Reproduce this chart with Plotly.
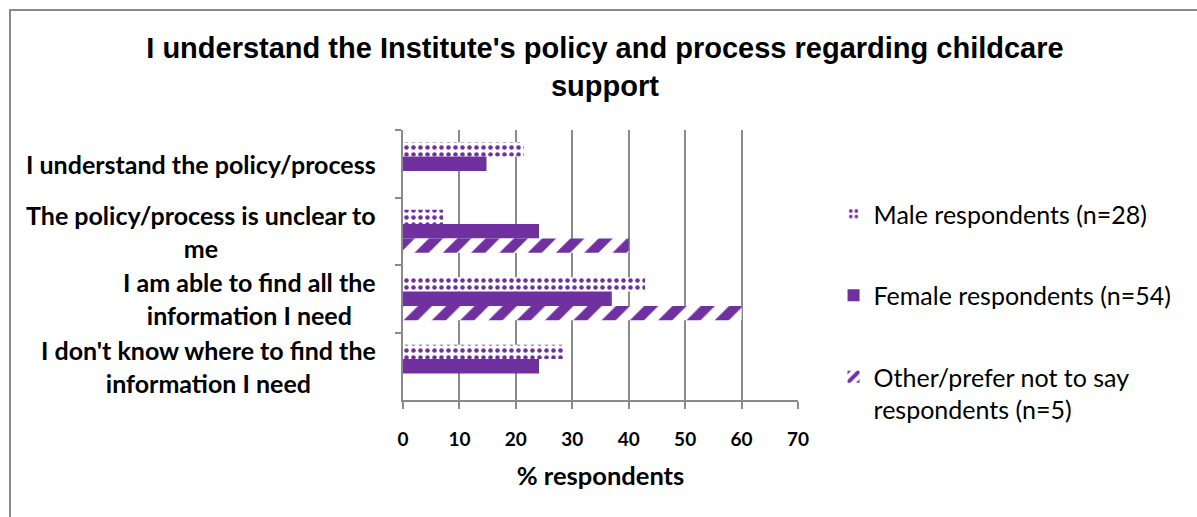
import plotly.graph_objects as go

# Response categories (top to bottom) and the share of each respondent group (%)
categories = [
    "I understand the policy/process",
    "The policy/process is unclear to<br>me",
    "I am able to find all the<br>information I need",
    "I don't know where to find the<br>information I need",
]
male = [21.4, 7.1, 42.9, 28.6]
female = [14.8, 24.1, 37.0, 24.1]
other = [0, 40, 60, 0]

series_names = [
    "Male respondents (n=28)",
    "Female respondents (n=54)",
    "Other/prefer not to say<br>respondents (n=5)",
]

x_ticks = [0, 10, 20, 30, 40, 50, 60, 70]

PURPLE = "#7030A0"
GRID = "#8a8a8a"
LABEL_FONT = "Lato"

fig = go.Figure()

fig.add_trace(go.Bar(
    y=categories, x=male, orientation="h", name=series_names[0],
    legendgroup="m",
    marker=dict(color="white",
                pattern=dict(shape=".", fgcolor=PURPLE, bgcolor="white",
                             fgopacity=1, size=7, solidity=0.33,
                             fillmode="overlay"),
                line=dict(width=0)),
))
fig.add_trace(go.Bar(
    y=categories, x=female, orientation="h", name=series_names[1],
    legendgroup="f",
    marker=dict(color=PURPLE, line=dict(width=0)),
))
fig.add_trace(go.Bar(
    y=categories, x=other, orientation="h", name=series_names[2],
    legendgroup="o",
    marker=dict(color="white",
                pattern=dict(shape="/", fgcolor=PURPLE, bgcolor="white",
                             fgopacity=1, size=20, solidity=0.5,
                             fillmode="overlay"),
                line=dict(width=0)),
))

# Category labels, centred line by line to the left of the axis
for cat in categories:
    fig.add_annotation(
        x=-0.0633, xref="paper", y=cat, yref="y",
        text=cat, showarrow=False, xanchor="right", yanchor="middle",
        align="center",
        font=dict(family=LABEL_FONT, size=25, color="black", weight="bold"),
    )

# Outer chart frame
fig.add_shape(type="rect", xref="paper", yref="paper",
              x0=-0.9949, x1=2.2, y0=-0.7, y1=1.4444,
              line=dict(color=GRID, width=2), fillcolor="rgba(0,0,0,0)",
              layer="below")

fig.update_layout(
    width=1197, height=517,
    margin=dict(l=403, r=399, t=130, b=117),
    paper_bgcolor="white", plot_bgcolor="white",
    barmode="group", bargap=0.36, bargroupgap=0,
    title=dict(
        text="I understand the Institute's policy and process regarding childcare<br>support",
        xref="container", x=0.5054, xanchor="center",
        yref="container", y=1 - 58 / 517, yanchor="top",
        font=dict(family="Liberation Sans", size=29, color="black", weight="bold"),
    ),
    xaxis=dict(
        range=[0, 70], tickvals=x_ticks, ticktext=[str(v) for v in x_ticks],
        showgrid=True, gridcolor=GRID, gridwidth=2,
        showline=True, linecolor=GRID, linewidth=2,
        ticks="outside", ticklen=7, tickcolor=GRID, tickwidth=2,
        ticklabelstandoff=14,
        tickfont=dict(family=LABEL_FONT, size=19, color="black", weight="bold"),
        title=dict(text="% respondents", standoff=18,
                   font=dict(family=LABEL_FONT, size=25.5, color="black", weight="bold")),
        zeroline=False, fixedrange=True,
    ),
    yaxis=dict(
        categoryorder="array", categoryarray=categories,
        autorange="reversed",
        showticklabels=False, showgrid=False,
        showline=True, linecolor=GRID, linewidth=2,
        ticks="outside", tickson="boundaries", ticklen=6,
        tickcolor=GRID, tickwidth=2, fixedrange=True,
    ),
    legend=dict(
        x=1.09, xanchor="left", y=0.774, yanchor="top",
        font=dict(family=LABEL_FONT, size=25, color="black"),
        tracegroupgap=46, valign="top",
        bgcolor="rgba(0,0,0,0)",
    ),
)

fig.write_html("out.html")
